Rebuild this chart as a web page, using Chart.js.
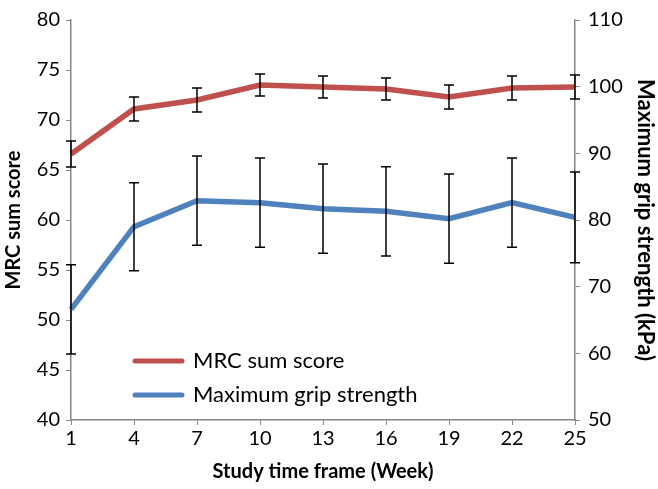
<!DOCTYPE html>
<html>
<head>
<meta charset="utf-8">
<script src="https://cdn.jsdelivr.net/npm/chart.js@4.4.0/dist/chart.umd.min.js"></script>
<style>
  html, body { margin: 0; padding: 0; background: #fff; }
  #wrap { width: 658px; height: 489px; }
</style>
</head>
<body>
<div id="wrap"><canvas id="chart" width="658" height="489"></canvas></div>
<script>
const weeks = ["1", "4", "7", "10", "13", "16", "19", "22", "25"];
const mrcScore = [66.6, 71.1, 72.0, 73.5, 73.3, 73.1, 72.3, 73.2, 73.3];
const mrcError = [1.3, 1.2, 1.2, 1.1, 1.1, 1.1, 1.2, 1.2, 1.2];
const gripStrength = [66.6, 79.0, 82.9, 82.6, 81.7, 81.3, 80.2, 82.6, 80.4];
const gripError = [6.7, 6.6, 6.7, 6.7, 6.7, 6.7, 6.7, 6.7, 6.8];

const RED = "#C0504D";
const BLUE = "#4F81BD";
const AXIS = "#868686";
const FONT = "Lato, 'Open Sans', sans-serif";

const errorBarPlugin = {
  id: "errorBars",
  afterDatasetsDraw(chart) {
    const ctx = chart.ctx;
    const x = chart.scales.x;
    ctx.save();
    ctx.strokeStyle = "#000";
    ctx.lineWidth = 1.5;
    chart.data.datasets.forEach((ds) => {
      const y = chart.scales[ds.yAxisID];
      ds.data.forEach((v, i) => {
        const px = x.getPixelForValue(i);
        const top = y.getPixelForValue(v + ds.errors[i]);
        const bot = y.getPixelForValue(v - ds.errors[i]);
        ctx.beginPath();
        ctx.moveTo(px, top);
        ctx.lineTo(px, bot);
        ctx.moveTo(px - 5, top);
        ctx.lineTo(px + 5, top);
        ctx.moveTo(px - 5, bot);
        ctx.lineTo(px + 5, bot);
        ctx.stroke();
      });
    });
    ctx.restore();
  }
};

const legendPlugin = {
  id: "innerLegend",
  afterDraw(chart) {
    const ctx = chart.ctx;
    const items = [
      { label: "MRC sum score", color: RED, y: 361 },
      { label: "Maximum grip strength", color: BLUE, y: 395 }
    ];
    ctx.save();
    ctx.font = "22px " + FONT;
    ctx.textBaseline = "middle";
    ctx.lineCap = "round";
    items.forEach((item) => {
      ctx.strokeStyle = item.color;
      ctx.lineWidth = 5;
      ctx.beginPath();
      ctx.moveTo(135, item.y);
      ctx.lineTo(182, item.y);
      ctx.stroke();
      ctx.fillStyle = "#000";
      ctx.fillText(item.label, 193, item.y);
    });
    ctx.restore();
  }
};

const tickFont = { family: FONT, size: 20 };
const titleFont = { family: FONT, size: 20, weight: "bold" };

new Chart(document.getElementById("chart"), {
  type: "line",
  data: {
    labels: weeks,
    datasets: [
      {
        label: "MRC sum score",
        data: mrcScore,
        errors: mrcError,
        yAxisID: "y",
        borderColor: RED,
        borderWidth: 5.5,
        pointRadius: 0,
        tension: 0
      },
      {
        label: "Maximum grip strength",
        data: gripStrength,
        errors: gripError,
        yAxisID: "y1",
        borderColor: BLUE,
        borderWidth: 5.5,
        pointRadius: 0,
        tension: 0
      }
    ]
  },
  options: {
    responsive: false,
    animation: false,
    layout: { padding: { top: 6, right: 0, left: 0, bottom: 0 } },
    plugins: { legend: { display: false }, tooltip: { enabled: false } },
    scales: {
      x: {
        offset: false,
        border: { color: AXIS, width: 1.5 },
        grid: { display: true, drawOnChartArea: false, drawTicks: true, tickLength: 5, color: AXIS },
        ticks: { color: "#000", font: tickFont, padding: 2, maxRotation: 0 },
        title: { display: true, text: "Study time frame (Week)", color: "#000", font: titleFont, padding: { top: 2, bottom: 5 } },
        afterFit(scale) { scale.height = 69; }
      },
      y: {
        position: "left",
        min: 40,
        max: 80,
        border: { color: AXIS, width: 1.5 },
        grid: { display: true, drawOnChartArea: false, drawTicks: true, tickLength: 5, color: AXIS },
        ticks: { stepSize: 5, color: "#000", font: tickFont, padding: 6 },
        title: { display: true, text: "MRC sum score", color: "#000", font: titleFont, padding: { top: 2, bottom: 0 } },
        afterFit(scale) { scale.width = 71; }
      },
      y1: {
        position: "right",
        min: 50,
        max: 110,
        border: { color: AXIS, width: 1.5 },
        grid: { display: true, drawOnChartArea: false, drawTicks: true, tickLength: 5, color: AXIS },
        ticks: { stepSize: 10, color: "#000", font: tickFont, padding: 8 },
        title: { display: true, text: "Maximum grip strength (kPa)", color: "#000", font: { family: FONT, size: 22, weight: "bold" }, padding: { top: 0, bottom: 1 } },
        afterFit(scale) { scale.width = 83; }
      }
    }
  },
  plugins: [errorBarPlugin, legendPlugin]
});
</script>
</body>
</html>
